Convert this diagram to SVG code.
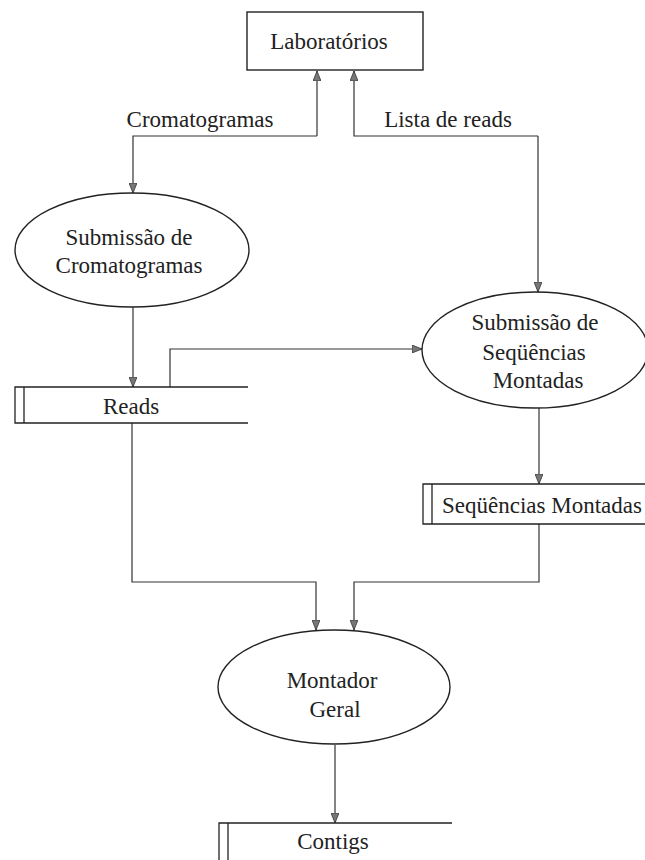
<svg xmlns="http://www.w3.org/2000/svg" width="645" height="860" viewBox="0 0 645 860">
<style>
text{font-family:"Liberation Serif","Times New Roman",serif;font-size:23px;fill:#222;text-anchor:middle}
.shape{fill:#fff;stroke:#222;stroke-width:1.4}
.store{fill:none;stroke:#222;stroke-width:1.3}
.flow{fill:none;stroke:#333;stroke-width:1.2}
</style>
<defs>
<marker id="arr" viewBox="0 0 10 8" refX="10" refY="4" markerWidth="10" markerHeight="8" markerUnits="userSpaceOnUse" orient="auto">
<path d="M0,0 L10,4 L0,8 z" fill="#777" stroke="#333" stroke-width="0.8"/>
</marker>
</defs>
<rect width="645" height="860" fill="#fff"/>
<g id="connectors">
<path class="flow" d="M317,136 L317,71" marker-end="url(#arr)"/>
<path class="flow" d="M317,136 L133,136 L133,193" marker-end="url(#arr)"/>
<path class="flow" d="M538,136 L354,136 L354,71" marker-end="url(#arr)"/>
<path class="flow" d="M538,136 L538,292" marker-end="url(#arr)"/>
<path class="flow" d="M133,307 L133,387" marker-end="url(#arr)"/>
<path class="flow" d="M170,387 L170,349 L422,349" marker-end="url(#arr)"/>
<path class="flow" d="M539,408 L539,484" marker-end="url(#arr)"/>
<path class="flow" d="M132,423 L132,582 L316,582 L316,630" marker-end="url(#arr)"/>
<path class="flow" d="M539,524 L539,582 L354,582 L354,630" marker-end="url(#arr)"/>
<path class="flow" d="M335,745 L335,823" marker-end="url(#arr)"/>
<text x="200" y="127">Cromatogramas</text>
<text x="448" y="127">Lista de reads</text>
</g>
<g id="laboratorios">
<rect class="shape" x="247" y="12" width="176" height="58"/>
<text x="329" y="49">Laboratórios</text>
</g>
<g id="submissao-cromatogramas">
<ellipse class="shape" cx="132" cy="250" rx="117" ry="57"/>
<text x="129" y="245">Submissão de</text>
<text x="129" y="273">Cromatogramas</text>
</g>
<g id="submissao-sequencias">
<ellipse class="shape" cx="535" cy="350" rx="113" ry="58"/>
<text x="535" y="330">Submissão de</text>
<text x="534" y="360">Seqüências</text>
<text x="538" y="388">Montadas</text>
</g>
<g id="reads">
<path class="store" d="M248,387 L15,387 L15,423 L248,423 M24,387 L24,423"/>
<text x="131" y="414">Reads</text>
</g>
<g id="sequencias-montadas">
<path class="store" d="M645,484 L423,484 L423,524 L645,524 M432,484 L432,524"/>
<text x="542" y="513">Seqüências Montadas</text>
</g>
<g id="montador-geral">
<ellipse class="shape" cx="334" cy="687" rx="116" ry="57"/>
<text x="332" y="688">Montador</text>
<text x="335" y="717">Geral</text>
</g>
<g id="contigs">
<path class="store" d="M452,823 L219,823 L219,860 M228,823 L228,860"/>
<text x="333" y="849">Contigs</text>
</g>
</svg>
